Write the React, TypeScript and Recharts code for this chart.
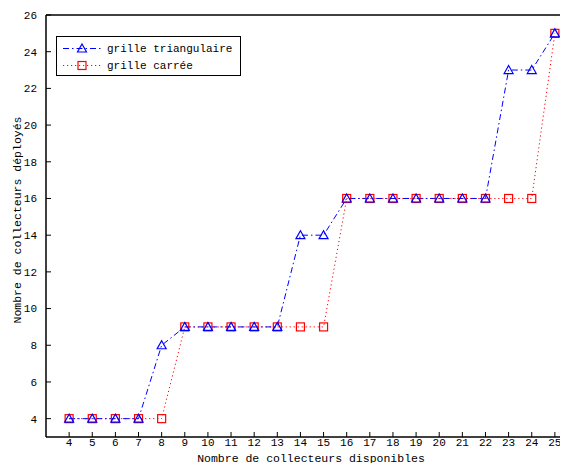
import React from 'react';
import { LineChart, Line, XAxis, YAxis, Legend, Label } from 'recharts';

// nombre de collecteurs disponibles
const collecteurs = [4, 5, 6, 7, 8, 9, 10, 11, 12, 13, 14, 15, 16, 17, 18, 19, 20, 21, 22, 23, 24, 25];
const grilleTriangulaire = [4, 4, 4, 4, 8, 9, 9, 9, 9, 9, 14, 14, 16, 16, 16, 16, 16, 16, 16, 23, 23, 25];
const grilleCarree = [4, 4, 4, 4, 4, 9, 9, 9, 9, 9, 9, 9, 16, 16, 16, 16, 16, 16, 16, 16, 16, 25];
const yTicks = [4, 6, 8, 10, 12, 14, 16, 18, 20, 22, 24, 26];

const data = collecteurs.map((x, i) => ({
  x,
  tri: grilleTriangulaire[i],
  carre: grilleCarree[i],
}));

const FONT = '"Liberation Mono", "DejaVu Sans Mono", monospace';
const BLUE = '#0000ff';
const RED = '#ff0000';
const TRI_DASH = '6 3 1.5 3';
const SQ_DASH = '1.2 2.8';

const triPath = (cx: number, cy: number) =>
  `M${cx},${cy - 4.5} L${cx + 4.5},${cy + 3.5} L${cx - 4.5},${cy + 3.5} Z`;

const TriangleDot = (props: any) => {
  const { cx, cy, index } = props;
  if (cx == null || cy == null) return null;
  return <path key={`t${index}`} d={triPath(cx, cy)} fill="none" stroke={BLUE} strokeWidth={1.2} />;
};

const SquareDot = (props: any) => {
  const { cx, cy, index } = props;
  if (cx == null || cy == null) return null;
  return (
    <rect key={`s${index}`} x={cx - 4} y={cy - 4} width={8} height={8} fill="none" stroke={RED} strokeWidth={1.2} />
  );
};

const LegendBox = () => (
  <div
    style={{
      width: 185,
      height: 40,
      boxSizing: 'border-box',
      border: '1.5px solid #000',
      background: '#fff',
      fontFamily: FONT,
      fontSize: 11,
      color: '#000',
      paddingTop: 3,
    }}
  >
    <div style={{ display: 'flex', alignItems: 'center', height: 17 }}>
      <svg width={44} height={17} style={{ marginLeft: 4 }}>
        <line x1={2} y1={8.5} x2={40} y2={8.5} stroke={BLUE} strokeDasharray={TRI_DASH} />
        <path d={triPath(21, 8.5)} fill="none" stroke={BLUE} strokeWidth={1.2} />
      </svg>
      <span style={{ marginLeft: 2 }}>grille triangulaire</span>
    </div>
    <div style={{ display: 'flex', alignItems: 'center', height: 17 }}>
      <svg width={44} height={17} style={{ marginLeft: 4 }}>
        <line x1={2} y1={8.5} x2={40} y2={8.5} stroke={RED} strokeDasharray={SQ_DASH} />
        <rect x={17} y={4.5} width={8} height={8} fill="none" stroke={RED} strokeWidth={1.2} />
      </svg>
      <span style={{ marginLeft: 2 }}>grille carrée</span>
    </div>
  </div>
);

const tickStyle = { fontFamily: FONT, fontSize: 11, fill: '#000' };
const axisLine = { stroke: '#000', strokeWidth: 1.5 };
const tickLine = { stroke: '#000', strokeWidth: 1 };

export default function App() {
  return (
    <div style={{ marginLeft: -8, marginTop: -8, width: 568, height: 463, overflow: 'hidden', background: '#fff' }}>
      <LineChart width={590} height={463} data={data} margin={{ top: 0, right: 12, bottom: 0, left: 0 }}>
        <XAxis
          dataKey="x"
          type="number"
          domain={[3, 26]}
          ticks={collecteurs}
          interval={0}
          height={26}
          tickSize={-5}
          tickMargin={6}
          tick={tickStyle}
          axisLine={axisLine}
          tickLine={tickLine}
        >
          <Label
            content={() => (
              <text x={311} y={461.5} textAnchor="middle" fontFamily={FONT} fontSize={11.5} fill="#000">
                Nombre de collecteurs disponibles
              </text>
            )}
          />
        </XAxis>
        <XAxis
          xAxisId="top"
          orientation="top"
          dataKey="x"
          type="number"
          domain={[3, 26]}
          ticks={collecteurs}
          interval={0}
          height={15}
          tickSize={-5}
          tick={false}
          axisLine={axisLine}
          tickLine={tickLine}
        />
        <YAxis
          type="number"
          domain={[3, 26]}
          ticks={yTicks}
          interval={0}
          width={46}
          tickSize={-5}
          tickMargin={14}
          tick={tickStyle}
          axisLine={axisLine}
          tickLine={tickLine}
        >
          <Label
            content={() => (
              <text
                x={17}
                y={220}
                transform="rotate(-90 17 220)"
                textAnchor="middle"
                dominantBaseline="central"
                fontFamily={FONT}
                fontSize={11.5}
                fill="#000"
              >
                Nombre de collecteurs déployés
              </text>
            )}
          />
        </YAxis>
        <Legend
          layout="vertical"
          verticalAlign="middle"
          align="center"
          content={<LegendBox />}
          wrapperStyle={{ position: 'absolute', left: 56, top: 36, width: 185, height: 40 }}
        />
        <Line
          dataKey="carre"
          name="grille carrée"
          stroke={RED}
          strokeWidth={1}
          strokeDasharray={SQ_DASH}
          dot={SquareDot}
          activeDot={false}
          isAnimationActive={false}
        />
        <Line
          dataKey="tri"
          name="grille triangulaire"
          stroke={BLUE}
          strokeWidth={1}
          strokeDasharray={TRI_DASH}
          dot={TriangleDot}
          activeDot={false}
          isAnimationActive={false}
        />
      </LineChart>
    </div>
  );
}
